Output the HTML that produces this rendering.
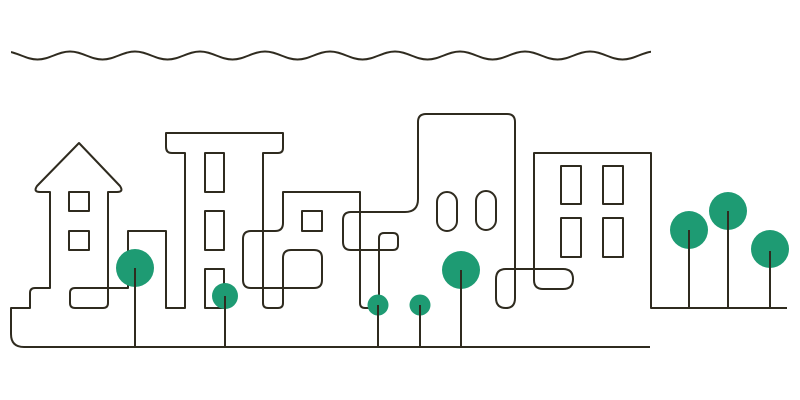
<!DOCTYPE html>
<html><head><meta charset="utf-8"><style>html,body{margin:0;padding:0;background:#fff;width:800px;height:400px;overflow:hidden}</style></head>
<body>
<svg width="800" height="400" viewBox="0 0 800 400" xmlns="http://www.w3.org/2000/svg">
<defs><clipPath id="c"><rect x="11" y="0" width="640" height="100"/></clipPath></defs>
<g fill="none" stroke="#2f2b1f" stroke-width="2" stroke-linejoin="round" stroke-linecap="butt">
<path clip-path="url(#c)" d="M5,51.5 C17,51.5 25.5,59.5 37.5,59.5 S58,51.5 70,51.5 S90.5,59.5 102.5,59.5 S123,51.5 135,51.5 S155.5,59.5 167.5,59.5 S188,51.5 200,51.5 S220.5,59.5 232.5,59.5 S253,51.5 265,51.5 S285.5,59.5 297.5,59.5 S318,51.5 330,51.5 S350.5,59.5 362.5,59.5 S383,51.5 395,51.5 S415.5,59.5 427.5,59.5 S448,51.5 460,51.5 S480.5,59.5 492.5,59.5 S513,51.5 525,51.5 S545.5,59.5 557.5,59.5 S578,51.5 590,51.5 S610.5,59.5 622.5,59.5 S643,51.5 655,51.5"/>
<path d="M650,347 L24,347 Q11,347 11,334 L11,308 L30,308 L30,293 Q30,288 35,288 L50,288 L50,192 L40,192 Q33,192 37,186 L79,143 L120,186 Q124,192 117,192 L108,192 L108,303 Q108,308 103,308 L75,308 Q70,308 70,303 L70,293 Q70,288 75,288 L128,288 L128,231 L166,231 L166,308 L185,308 L185,153 L172,153 Q166,153 166,147 L166,133 L283,133 L283,148 Q283,153 278,153 L263,153 L263,303 Q263,308 268,308 L278,308 Q283,308 283,303 L283,258 Q283,250 291,250 L314,250 Q322,250 322,258 L322,280 Q322,288 314,288 L251,288 Q243,288 243,280 L243,239 Q243,231 251,231 L275,231 Q283,231 283,223 L283,192 L360,192 L360,303 Q360,308 365,308 L379,308"/>
<path d="M379,308 L379,238 Q379,233 384,233 L393,233 Q398,233 398,238 L398,245 Q398,250 393,250 L351,250 Q343,250 343,242 L343,220 Q343,212 351,212 L405,212 Q418,212 418,199 L418,122 Q418,114 426,114 L507,114 Q515,114 515,122 L515,298 Q515,308 506,308 Q496,308 496,298 L496,279 Q496,269 506,269 L563,269 Q573,269 573,279 Q573,289 563,289 L543,289 Q534,289 534,280 L534,153 L651,153 L651,308 L787,308"/>
<rect x="69" y="192" width="20" height="19"/><rect x="69" y="231" width="20" height="19"/>
<rect x="205" y="153" width="19" height="39"/><rect x="205" y="211" width="19" height="39"/><rect x="205" y="269" width="19" height="39"/>
<rect x="302" y="211" width="20" height="20"/>
<rect x="437" y="192" width="20" height="39" rx="10"/><rect x="476" y="191" width="20" height="39" rx="10"/>
<rect x="561" y="166" width="20" height="38"/><rect x="603" y="166" width="20" height="38"/>
<rect x="561" y="218" width="20" height="39"/><rect x="603" y="218" width="20" height="39"/>
</g>
<g fill="#1e9b73">
<circle cx="135" cy="268" r="19"/><circle cx="225" cy="296" r="13"/><circle cx="378" cy="305" r="10.5"/><circle cx="420" cy="305" r="10.5"/><circle cx="461" cy="270" r="19"/>
<circle cx="689" cy="230" r="19"/><circle cx="728" cy="211" r="19"/><circle cx="770" cy="249" r="19"/>
</g>
<g stroke="#2f2b1f" stroke-width="2">
<line x1="135" y1="268" x2="135" y2="347"/><line x1="225" y1="296" x2="225" y2="347"/><line x1="378" y1="305" x2="378" y2="347"/><line x1="420" y1="305" x2="420" y2="347"/><line x1="461" y1="270" x2="461" y2="347"/>
<line x1="689" y1="230" x2="689" y2="308"/><line x1="728" y1="211" x2="728" y2="308"/><line x1="770" y1="251" x2="770" y2="308"/>
</g>
</svg>
</body></html>
